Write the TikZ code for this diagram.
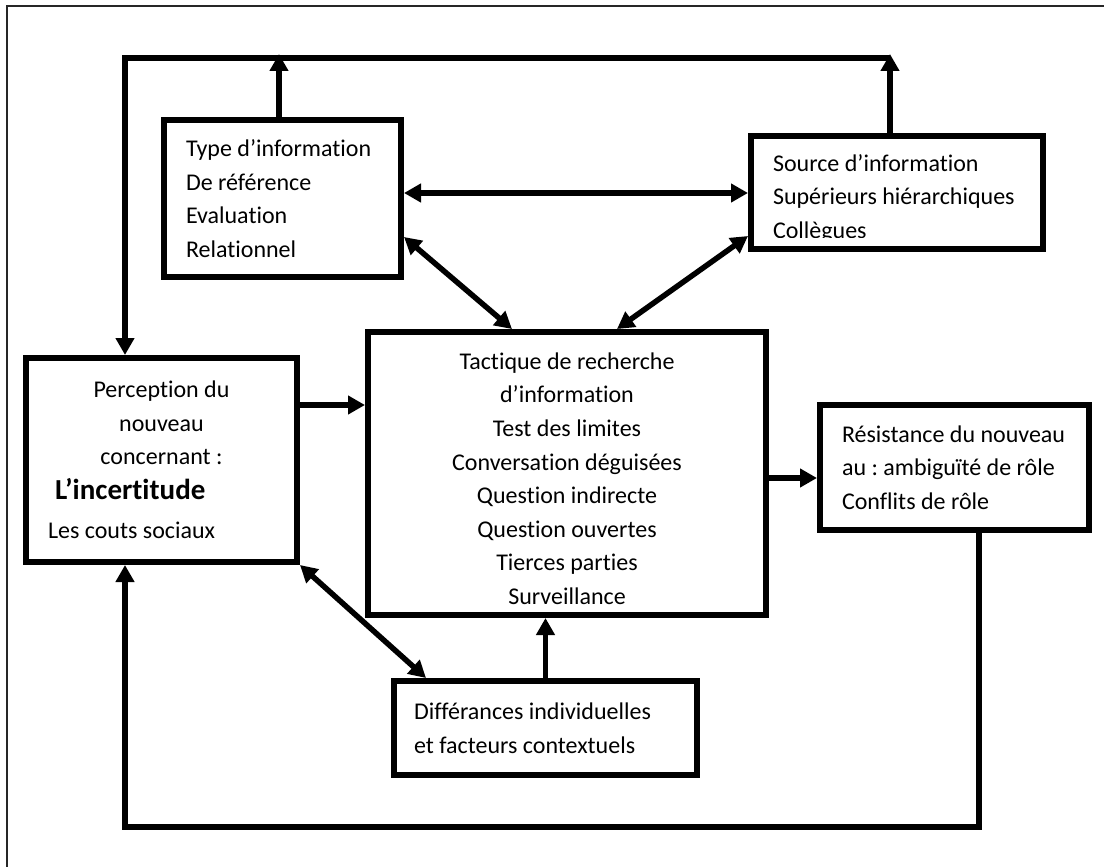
\documentclass[tikz,border=0pt]{standalone}
\usepackage{fontspec}
\setmainfont{Carlito}[Ligatures={NoCommon}]
\usetikzlibrary{arrows.meta}
\begin{document}
\begin{tikzpicture}[x=1pt,y=-1pt,
  box/.style={draw, line width=6pt, rectangle, inner sep=0pt,
    font=\fontsize{24}{33.6}\selectfont,
    execute at begin node={\frenchspacing\spaceskip=0pt\xspaceskip=0pt}},
  link/.style={line width=5.5pt, -{Triangle[length=17pt,width=18pt]}},
  link2/.style={line width=5.5pt,
    {Triangle[length=17pt,width=18pt]}-{Triangle[length=17pt,width=18pt]}},
  frame/.style={line width=2pt, black!85}]
\useasboundingbox (0,0) rectangle (1104,867);

% page frame (top and left edges only)
\draw[frame] (1104,6) -- (7,6) -- (7,867);

% boxes
\node[box, minimum width=237pt, minimum height=157pt, align=flush left, text width=193pt]
  (type) at (282.5,198.5)
  {Type d’information\\De référence\\Evaluation\\Relationnel};
\node[box, minimum width=292pt, minimum height=113pt, align=flush left, text width=248pt]
  (source) at (897,192.5)
  {\rule{0pt}{29pt}Source d’information\\Supérieurs hiérarchiques\\Collègues};
% the last line of the source box is cut off above the bottom border
\fill[white] (754,238) rectangle (1040,246);
\node[box, minimum width=398pt, minimum height=283pt, align=flush center, text width=390pt]
  (tact) at (567,473.5)
  {\rule{0pt}{27pt}Tactique de recherche\\d’information\\Test des limites\\Conversation déguisées\\
   Question indirecte\\Question ouvertes\\Tierces parties\\Surveillance};
\node[box, minimum width=271pt, minimum height=204pt, align=flush center, text width=230pt]
  (perc) at (161.5,460)
  {Perception du\\nouveau\\concernant :\\[1pt]
   \makebox[\linewidth][l]{\hspace*{8.5pt}\fontsize{29}{35}\selectfont\bfseries L’incertitude}\\[6pt]
   \makebox[\linewidth][l]{\hspace*{1.5pt}Les couts sociaux}};
\node[box, minimum width=269pt, minimum height=125pt, align=flush left, text width=225pt]
  (resist) at (954.5,467.5)
  {\mbox{Résistance du nouveau}\\au : ambiguïté de rôle\\Conflits de rôle};
\node[box, minimum width=303pt, minimum height=94pt, align=flush left, text width=263pt]
  (diff) at (545.5,728)
  {Différances individuelles\\et facteurs contextuels};

% corner points of the feedback loops
\coordinate (tl) at (125,58);
\coordinate (tr) at (890,58);
\coordinate (bl) at (125,827);
\coordinate (br) at (979,827);
\coordinate (typeup) at (279,54);
\coordinate (srcup) at (890,54);
\coordinate (hy) at (560,193);

% upper loop back to the perception box
\draw[link] (tr) -- (tl) -- (tl |- perc.north);
\draw[link] (type.north -| typeup) -- (typeup);
\draw[link] (source.north -| srcup) -- (srcup);

% links around the tactics box
\draw[link2] (type.east |- hy) -- (source.west |- hy);
\draw[link2] ([yshift=-38.5pt]type.east) -- ([xshift=-55pt]tact.north);
\draw[link2] ([yshift=-43.5pt]source.west) -- ([xshift=50pt]tact.north);
\coordinate (pout) at ([yshift=55pt]perc.east);
\draw[link] (pout) -- (tact.west |- pout);
\coordinate (tout) at ([yshift=-4.5pt]tact.east);
\draw[link] (tout) -- (resist.west |- tout);

% lower loop and individual differences
\draw[link] (resist.south -| br) -- (br) -- (bl) -- (bl |- perc.south);
\draw[link2] (perc.south east) -- ([xshift=35pt]diff.north west);
\draw[link] (diff.north) -- (diff.north |- tact.south);
\end{tikzpicture}
\end{document}
